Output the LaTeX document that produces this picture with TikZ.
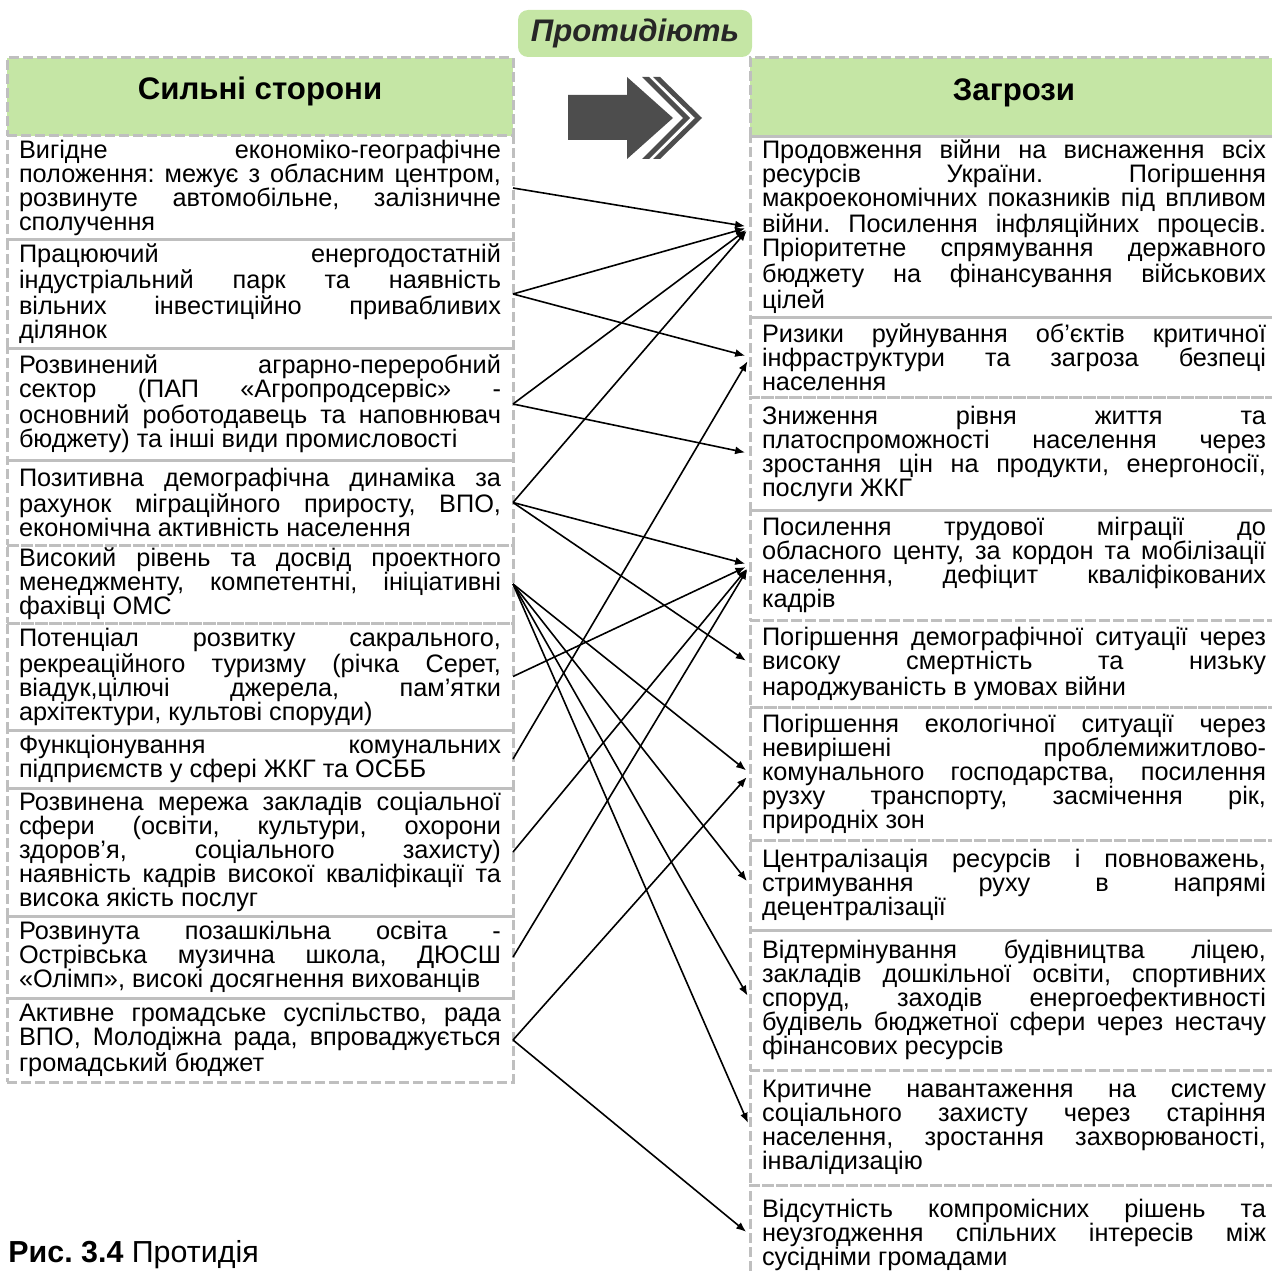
\documentclass[tikz,border=0pt]{standalone}
\usepackage{fontspec}
\setmainfont{Liberation Sans}
\usetikzlibrary{positioning,arrows.meta}
\definecolor{headgreen}{RGB}{197,230,165}
\definecolor{dashgray}{RGB}{191,191,191}
\definecolor{arrowgray}{RGB}{77,77,77}
\frenchspacing
\newcommand{\itemfont}{\fontsize{12.65}{12}\selectfont\tolerance=9999\hyphenpenalty=10000}
\newcommand{\headfont}{\fontsize{15.6}{18}\selectfont\bfseries}

\begin{document}
\begin{tikzpicture}[x=0.5pt,y=-0.5pt,
  box/.style={draw=dashgray,line width=1.5pt,dash pattern=on 5pt off 2pt,outer sep=0pt,inner xsep=0pt,inner ysep=1pt},
  strong/.style={box,text width=241pt,minimum width=253pt,align=justify,font=\itemfont},
  threat/.style={box,text width=252pt,minimum width=264pt,align=justify,font=\itemfont},
  head/.style={box,fill=headgreen,minimum height=39pt,text height=12pt,text depth=9pt,font=\headfont},
  link/.style={-{Latex[length=5pt,width=4pt]},line width=0.8pt,shorten >=2.5pt}]
\useasboundingbox (0,0) rectangle (1271,1273);
\node (act) at (635,33.5) [fill=headgreen,rounded corners=5pt,minimum width=117pt,minimum height=23.5pt,font=\headfont\itshape,text=black!85] {Протидіють};
\fill[arrowgray] (568,95) -- (627,95) -- (627,77) -- (673,118) -- (627,159) -- (627,140) -- (568,140) -- cycle;
\fill[arrowgray] (642,77) -- (649,77) -- (690,118) -- (649,159) -- (642,159) -- (683,118) -- cycle;
\fill[arrowgray] (653,77) -- (660,77) -- (702,118) -- (660,159) -- (653,159) -- (695,118) -- cycle;

\node (sh) at (7,58) [head,minimum width=253pt,anchor=north west] {Сильні сторони};
\node (s1) [strong,minimum height=52pt,below=0pt of sh] {Вигідне економіко-географічне\linebreak положення: межує з обласним центром,\linebreak розвинуте автомобільне, залізничне\linebreak сполучення};
\node (s2) [strong,minimum height=54pt,below=0pt of s1] {Працюючий енергодостатній\linebreak індустріальний парк та наявність\linebreak вільних інвестиційно привабливих\linebreak ділянок};
\node (s3) [strong,minimum height=56pt,below=0pt of s2] {Розвинений аграрно-переробний\linebreak сектор (ПАП «Агропродсервіс» -\linebreak основний роботодавець та наповнювач\linebreak бюджету) та інші види промисловості};
\node (s4) [strong,minimum height=42.5pt,below=0pt of s3] {Позитивна демографічна динаміка за\linebreak рахунок міграційного приросту, ВПО,\linebreak економічна активність населення};
\node (s5) [strong,minimum height=39pt,below=0pt of s4] {Високий рівень та досвід проектного\linebreak менеджменту, компетентні, ініціативні\linebreak фахівці ОМС};
\node (s6) [strong,minimum height=53.5pt,below=0pt of s5] {Потенціал розвитку сакрального,\linebreak рекреаційного туризму (річка Серет,\linebreak віадук,цілючі джерела, пам’ятки\linebreak архітектури, культові споруди)};
\node (s7) [strong,minimum height=29pt,below=0pt of s6] {Функціонування комунальних\linebreak підприємств у сфері ЖКГ та ОСББ};
\node (s8) [strong,minimum height=64pt,below=0pt of s7] {Розвинена мережа закладів соціальної\linebreak сфери (освіти, культури, охорони\linebreak здоров’я, соціального захисту)\linebreak наявність кадрів високої кваліфікації та\linebreak висока якість послуг};
\node (s9) [strong,minimum height=41pt,below=0pt of s8] {Розвинута позашкільна освіта -\linebreak Острівська музична школа, ДЮСШ\linebreak «Олімп», високі досягнення вихованців};
\node (s10) [strong,minimum height=42pt,below=0pt of s9] {Активне громадське суспільство, рада\linebreak ВПО, Молодіжна рада, впроваджується\linebreak громадський бюджет};

\node (th) at (750,58) [head,minimum width=264pt,minimum height=39.5pt,anchor=north west] {Загрози};
\node (t1) [threat,minimum height=90pt,below=0pt of th] {Продовження війни на виснаження всіх\linebreak ресурсів України. Погіршення\linebreak макроекономічних показників під впливом\linebreak війни. Посилення інфляційних процесів.\linebreak Пріоритетне спрямування державного\linebreak бюджету на фінансування військових\linebreak цілей};
\node (t2) [threat,minimum height=40pt,below=0pt of t1] {Ризики руйнування об’єктів критичної\linebreak інфраструктури та загроза безпеці\linebreak населення};
\node (t3) [threat,minimum height=56.5pt,below=0pt of t2] {Зниження рівня життя та\linebreak платоспроможності населення через\linebreak зростання цін на продукти, енергоносії,\linebreak послуги ЖКГ};
\node (t4) [threat,minimum height=55pt,below=0pt of t3] {Посилення трудової міграції до\linebreak обласного центу, за кордон та мобілізації\linebreak населення, дефіцит кваліфікованих\linebreak кадрів};
\node (t5) [threat,minimum height=43.5pt,below=0pt of t4] {Погіршення демографічної ситуації через\linebreak високу смертність та низьку\linebreak народжуваність в умовах війни};
\node (t6) [threat,minimum height=66.5pt,below=0pt of t5] {Погіршення екологічної ситуації через\linebreak невирішені проблемижитлово-\linebreak комунального господарства, посилення\linebreak рузху транспорту, засмічення рік,\linebreak природніх зон};
\node (t7) [threat,minimum height=45pt,below=0pt of t6] {Централізація ресурсів і повноважень,\linebreak стримування руху в напрямі\linebreak децентралізації};
\node (t8) [threat,minimum height=70pt,below=0pt of t7] {Відтермінування будівництва ліцею,\linebreak закладів дошкільної освіти, спортивних\linebreak споруд, заходів енергоефективності\linebreak будівель бюджетної сфери через нестачу\linebreak фінансових ресурсів};
\node (t9) [threat,minimum height=57.5pt,below=0pt of t8] {Критичне навантаження на систему\linebreak соціального захисту через старіння\linebreak населення, зростання захворюваності,\linebreak інвалідизацію};
\node (t10) [threat,minimum height=50pt,below=0pt of t9] {Відсутність компромісних рішень та\linebreak неузгодження спільних інтересів між\linebreak сусідніми громадами};

\node (cap) at (8,1262) [anchor=base west,inner sep=0pt,font=\fontsize{15.2}{17}\selectfont] {\textbf{Рис. 3.4} Протидія};

\draw[link] (s1.east) -- (t1.west);
\draw[link] (s2.east) -- (t1.west);
\draw[link] (s2.east) -- (t2.west);
\draw[link] (s3.east) -- (t1.west);
\draw[link] (s3.east) -- (t3.west);
\draw[link] (s4.east) -- (t1.west);
\draw[link] (s4.east) -- (t4.west);
\draw[link] (s4.east) -- (t5.west);
\draw[link] (s5.east) -- (t6.west);
\draw[link] (s5.east) -- (t7.west);
\draw[link] (s5.east) -- (t8.west);
\draw[link] (s5.east) -- (t9.west);
\draw[link] (s6.east) -- (t4.west);
\draw[link] (s7.east) -- (t2.west);
\draw[link] (s8.east) -- (t4.west);
\draw[link] (s9.east) -- (t4.west);
\draw[link] (s10.east) -- (t6.west);
\draw[link] (s10.east) -- (t10.west);
\end{tikzpicture}
\end{document}
